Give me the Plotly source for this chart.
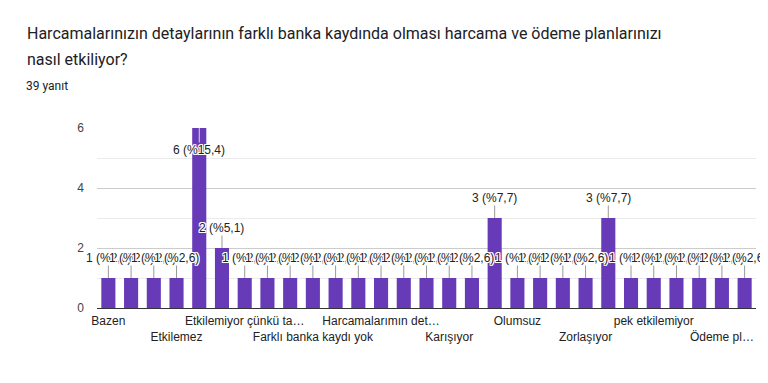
import plotly.graph_objects as go

# ---------------- data ----------------
title_line1 = "Harcamalarınızın detaylarının farklı banka kaydında olması harcama ve ödeme planlarınızı"
title_line2 = "nasıl etkiliyor?"
subtitle = "39 yanıt"
total_responses = 39

categories = [
    "Bazen", "Bazen zorluyor", "Biraz karışıyor", "Etkilemez", "Etkilemiyor",
    "Etkilemiyor.", "Etkilemiyor çünkü takip ediyorum", "Etkiliyor", "Evet",
    "Farklı banka kaydı yok", "Genelde etkilemiyor", "Hangi harcama nerede bilmiyorum",
    "Harcamalarımın detaylarını takip edemiyorum", "Hayır", "Hesaplamak zorlaşıyor",
    "Karışıyor", "Kontrol etmek zor", "Kötü etkiliyor", "Olumsuz", "Planlama zorlaşıyor",
    "Takip etmek zor", "Zorlaşıyor", "Zorluyor", "etkilemiyor", "pek etkilemiyor",
    "planlamam zorlaşıyor", "zorlaşıyor", "Ödeme planlarımı etkiliyor", "Ödemeleri unutabiliyorum",
]
values = [1, 1, 1, 1, 6, 2, 1, 1, 1, 1, 1, 1, 1, 1, 1, 1, 1, 3, 1, 1, 1, 1, 3, 1, 1, 1, 1, 1, 1]

tick_categories = ["Bazen", "Etkilemez", "Etkilemiyor çünkü takip ediyorum", "Farklı banka kaydı yok",
                   "Harcamalarımın detaylarını takip edemiyorum", "Karışıyor", "Olumsuz",
                   "Zorlaşıyor", "pek etkilemiyor", "Ödeme planlarımı etkiliyor"]
tick_labels = ["Bazen", "Etkilemez", "Etkilemiyor çünkü ta…", "Farklı banka kaydı yok",
               "Harcamalarımın det…", "Karışıyor", "Olumsuz", "Zorlaşıyor", "pek etkilemiyor",
               "Ödeme pl…"]
y_ticks = [0, 2, 4, 6]

# ---------------- layout helpers ----------------
OFF = 8                              # page body margin around the figure
W, H = 768 - 2 * OFF, 383 - 2 * OFF  # figure size (no page overflow)
L, R, T, B = 97 - OFF, 756 - OFF, 128 - OFF, 308 - OFF


def px(x):
    """screen x -> paper coordinate"""
    return (x - OFF - L) / (R - L)


def py(y):
    """screen y -> paper coordinate"""
    return (B - (y - OFF)) / (B - T)


BAR = "#673ab7"
CHART_FONT = "Arial, Liberation Sans, sans-serif"
TITLE_FONT = "Roboto, Arial, sans-serif"

fig = go.Figure()
fig.add_trace(go.Bar(
    x=categories, y=values, marker=dict(color=BAR, line=dict(width=0)),
    hoverinfo="x+y", showlegend=False,
))

# staggered tick labels
ticktext = [lab if i % 2 == 0 else "<br>" + lab for i, lab in enumerate(tick_labels)]

annotations = []
halo = ("1px 0 0 #fff, -1px 0 0 #fff, 0 1px 0 #fff, 0 -1px 0 #fff, "
        "1px 1px 0 #fff, -1px -1px 0 #fff, 1px -1px 0 #fff, -1px 1px 0 #fff")
ymax = max(y_ticks)
for c, v in zip(categories, values):
    pct = v / total_responses * 100
    txt = f"{v} (%{pct:.1f})".replace(".", ",")
    inside = v >= ymax
    annotations.append(dict(
        x=c, y=v, xref="x", yref="y", text=txt,
        showarrow=True, arrowhead=0, arrowwidth=1,
        arrowcolor="#999999" if not inside else "#e0d8f0",
        ax=0, ay=22 if inside else -20, standoff=0, borderpad=0,
        font=dict(family=CHART_FONT, size=12, color="#222222", shadow=halo),
    ))

# title texts
annotations += [
    dict(x=px(25), y=py(33), xref="paper", yref="paper", xanchor="left", yanchor="middle",
         text=title_line1, showarrow=False, font=dict(family=TITLE_FONT, size=16, color="#202124")),
    dict(x=px(25), y=py(59), xref="paper", yref="paper", xanchor="left", yanchor="middle",
         text=title_line2, showarrow=False, font=dict(family=TITLE_FONT, size=16, color="#202124")),
    dict(x=px(24), y=py(86), xref="paper", yref="paper", xanchor="left", yanchor="middle",
         text=subtitle, showarrow=False, font=dict(family=TITLE_FONT, size=12, color="#202124")),
]

fig.update_layout(
    width=W, height=H,
    margin=dict(l=L, r=W - R, t=T, b=H - B, pad=0),
    paper_bgcolor="#ffffff", plot_bgcolor="#ffffff",
    bargap=0.38,
    annotations=annotations,
    xaxis=dict(
        type="category", range=[-0.5, len(categories) - 0.5],
        tickmode="array", tickvals=tick_categories, ticktext=ticktext,
        tickangle=0, showgrid=False, showline=False, zeroline=False, ticks="",
        tickfont=dict(family=CHART_FONT, size=12, color="#222222"),
        ticklabelstandoff=4,
    ),
    yaxis=dict(
        range=[0, ymax], tickmode="array", tickvals=y_ticks,
        showgrid=True, gridcolor="#cccccc", gridwidth=1,
        zeroline=True, zerolinecolor="#333333", zerolinewidth=1,
        minor=dict(dtick=1, showgrid=True, gridcolor="#ebebeb"),
        tickfont=dict(family=CHART_FONT, size=12, color="#444444"),
        ticklabelstandoff=12,
    ),
    font=dict(family=CHART_FONT),
)

fig.write_html("out.html")
